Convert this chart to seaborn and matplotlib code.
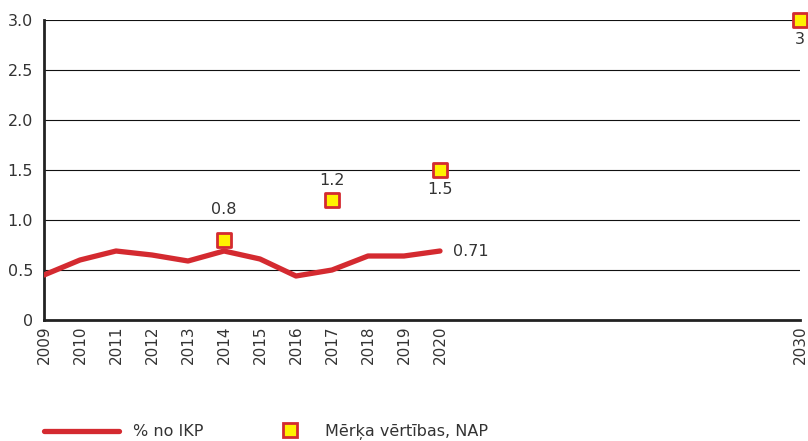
import matplotlib
matplotlib.use("Agg")
import matplotlib.pyplot as plt
import seaborn as sns
import pandas as pd
from matplotlib.lines import Line2D

years = [2009, 2010, 2011, 2012, 2013, 2014, 2015, 2016, 2017, 2018, 2019, 2020]
share_gdp = [0.45, 0.60, 0.69, 0.65, 0.59, 0.69, 0.61, 0.44, 0.50, 0.64, 0.64, 0.69]
last_label = "0.71"

target_years = [2014, 2017, 2020, 2030]
target_values = [0.8, 1.2, 1.5, 3.0]
target_labels = ["0.8", "1.2", "1.5", "3"]

xticks = years + [2030]
yticks = [0, 0.5, 1.0, 1.5, 2.0, 2.5, 3.0]
ytick_labels = ["0", "0.5", "1.0", "1.5", "2.0", "2.5", "3.0"]

series_labels = ["% no IKP", "Mērķa vērtības, NAP"]

RED = "#d42a30"
YELLOW = "#fff200"
TXT = "#333333"

sns.set_theme(style="white")
plt.rcParams["font.family"] = ["DejaVu Sans"]
plt.rcParams["text.color"] = TXT

fig = plt.figure(figsize=(8.08, 4.41), dpi=100)
ax = fig.add_axes([44 / 808, 1 - 320 / 441, (800 - 44) / 808, (320 - 20) / 441])

df = pd.DataFrame({"year": years, "val": share_gdp})
tdf = pd.DataFrame({"year": target_years, "val": target_values})

sns.lineplot(data=df, x="year", y="val", ax=ax, color=RED, lw=3.8, zorder=3)
sns.scatterplot(data=tdf, x="year", y="val", ax=ax, marker="s", s=105,
                color=YELLOW, edgecolor=RED, linewidth=2, zorder=4, clip_on=False)

# annotations
offsets = {"0.8": (0, 22), "1.2": (0, 14), "1.5": (0, -14), "3": (0, -14)}
for yr, v, lab in zip(target_years, target_values, target_labels):
    dx, dy = offsets[lab]
    ax.annotate(lab, (yr, v), xytext=(dx, dy), textcoords="offset points",
                ha="center", va="center", fontsize=11.5, color=TXT)
ax.annotate(last_label, (years[-1], share_gdp[-1]), xytext=(9, 0), textcoords="offset points",
            ha="left", va="center", fontsize=11.5, color=TXT)

ax.set_xlim(2009, 2030)
ax.set_ylim(0, 3.0)
ax.set_xticks(xticks)
ax.set_xticklabels([str(x) for x in xticks], rotation=90, fontsize=11, color=TXT)
ax.set_yticks(yticks)
ax.set_yticklabels(ytick_labels, fontsize=11.5, color=TXT)
ax.tick_params(axis="both", length=0)
ax.tick_params(axis="y", pad=8)
ax.tick_params(axis="x", pad=4)
ax.set_xlabel("")
ax.set_ylabel("")
ax.yaxis.grid(True, color="#111111", lw=0.8)
ax.xaxis.grid(False)
for s in ["top", "right"]:
    ax.spines[s].set_visible(False)
for s in ["left", "bottom"]:
    ax.spines[s].set_color("#222222")
    ax.spines[s].set_linewidth(2)
ax.set_axisbelow(True)

# legends
h1 = Line2D([], [], color=RED, lw=3.8)
fig.legend([h1], [series_labels[0]], loc="center left",
           bbox_to_anchor=(44 / 808, 1 - 432 / 441), frameon=False,
           fontsize=11.5, handlelength=4.7, handletextpad=0.85,
           borderpad=0, borderaxespad=0)
h2 = Line2D([], [], marker="s", ls="none", markersize=10, markerfacecolor=YELLOW,
            markeredgecolor=RED, markeredgewidth=2)
fig.legend([h2], [series_labels[1]], loc="center left",
           bbox_to_anchor=(279 / 808, 1 - 432 / 441), frameon=False,
           fontsize=11.5, handlelength=1.4, handletextpad=1.45,
           borderpad=0, borderaxespad=0)

fig.savefig("out.png", dpi=100)
